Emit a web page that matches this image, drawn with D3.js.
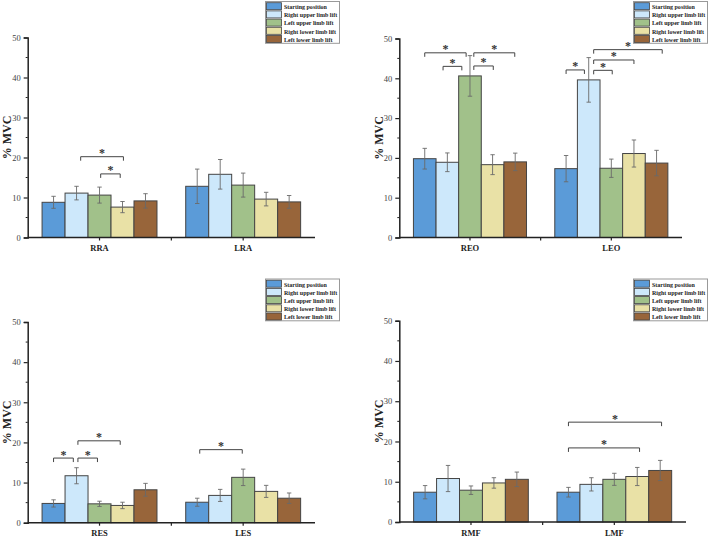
<!DOCTYPE html>
<html>
<head>
<meta charset="utf-8">
<script src="https://cdn.jsdelivr.net/npm/d3@7"></script>
<style>
  body { margin: 0; background: #fff; }
  svg { display: block; font-family: "Liberation Serif", "Times New Roman", serif; }
</style>
</head>
<body>
<div id="chart"></div>
<script>
// conditions (legend order)
var conditions = ['Starting position', 'Right upper limb lift', 'Left upper limb lift', 'Right lower limb lift', 'Left lower limb lift'];
var colors = ['#5b9bd8', '#cde8fb', '#a1c18a', '#e9e1a6', '#98653a'];
var yTicks = [0, 10, 20, 30, 40, 50];

// muscles per panel
var muscles1 = ['RRA', 'LRA'];
var muscles2 = ['REO', 'LEO'];
var muscles3 = ['RES', 'LES'];
var muscles4 = ['RMF', 'LMF'];

// mean %MVC, one value per condition
var rraMean = [8.8, 11.1, 10.6, 7.6, 9.15];
var rraErr  = [1.5, 1.7, 2.0, 1.4, 1.8];
var lraMean = [12.8, 15.8, 13.1, 9.6, 8.9];
var lraErr  = [4.3, 3.7, 3.0, 1.7, 1.6];
var reoMean = [19.8, 18.9, 40.6, 18.3, 19.0];
var reoErr  = [2.6, 2.35, 5.1, 2.5, 2.2];
var leoMean = [17.3, 39.6, 17.4, 21.1, 18.7];
var leoErr  = [3.3, 5.6, 2.3, 3.4, 3.2];
var resMean = [4.8, 11.7, 4.7, 4.3, 8.2];
var resErr  = [0.9, 2.0, 0.65, 0.8, 1.6];
var lesMean = [5.1, 6.8, 11.3, 7.8, 6.1];
var lesErr  = [1.0, 1.5, 2.05, 1.5, 1.3];
var rmfMean = [7.4, 10.8, 7.9, 9.7, 10.6];
var rmfErr  = [1.65, 3.25, 1.05, 1.3, 1.8];
var lmfMean = [7.4, 9.35, 10.6, 11.3, 12.8];
var lmfErr  = [1.2, 1.65, 1.5, 2.25, 2.5];

// significance brackets: group, from/to bar position (index units), height in %MVC
var sig1 = [{g: 0, a: 1.18, b: 3.04, y: 20.2}, {g: 0, a: 2.05, b: 2.9, y: 15.9}];
var sig2 = [
  {g: 0, a: 0, b: 1.83, y: 46.4}, {g: 0, a: 0.81, b: 1.64, y: 43.0},
  {g: 0, a: 2.17, b: 3.98, y: 46.4}, {g: 0, a: 2.17, b: 3.03, y: 43.1},
  {g: 1, a: 0, b: 0.81, y: 42.1}, {g: 1, a: 1.22, b: 2.04, y: 42.0},
  {g: 1, a: 1.22, b: 3.0, y: 44.6}, {g: 1, a: 1.22, b: 4.25, y: 47.2}
];
var sig3 = [
  {g: 0, a: 0, b: 0.86, y: 16.1}, {g: 0, a: 1.06, b: 1.91, y: 16.1},
  {g: 0, a: 1.06, b: 2.9, y: 20.4}, {g: 1, a: 0.11, b: 1.96, y: 18.2}
];
var sig4 = [{g: 1, a: 0, b: 3.1, y: 18.4}, {g: 1, a: 0, b: 4.06, y: 24.8}];

var panels = [
  {muscles: muscles1, means: [rraMean, lraMean], errs: [rraErr, lraErr], sig: sig1,
   left: 27.7, right: 315, top: 37.5, bottom: 237.5, legX: 265.5, legY: 1.5, labX: 6},
  {muscles: muscles2, means: [reoMean, leoMean], errs: [reoErr, leoErr], sig: sig2,
   left: 399.3, right: 682, top: 38.5, bottom: 237.5, legX: 633.5, legY: 1.5, labX: 378},
  {muscles: muscles3, means: [resMean, lesMean], errs: [resErr, lesErr], sig: sig3,
   left: 27.7, right: 315, top: 322, bottom: 522.7, legX: 265.5, legY: 279, labX: 6},
  {muscles: muscles4, means: [rmfMean, lmfMean], errs: [rmfErr, lmfErr], sig: sig4,
   left: 399.3, right: 686, top: 320.7, bottom: 522, legX: 633.5, legY: 279, labX: 378}
];

var svg = d3.select('#chart').append('svg')
  .attr('width', 711)
  .attr('height', 537);

panels.forEach(function(p) {
  var g = svg.append('g');

  var x0 = d3.scaleBand()
    .domain(p.muscles)
    .range([p.left, p.right])
    .paddingInner(0.2)
    .paddingOuter(0.1);

  var x1 = d3.scaleBand()
    .domain(d3.range(conditions.length))
    .range([0, x0.bandwidth()]);

  var y = d3.scaleLinear()
    .domain([0, 50])
    .range([p.bottom, p.top]);

  var bw = x1.bandwidth();
  // bar position in index units -> pixel
  var barX = function(gi, pos) { return x0(p.muscles[gi]) + (pos + 0.5) * bw; };

  // bars
  p.muscles.forEach(function(m, gi) {
    var rows = p.means[gi].map(function(v, i) { return {i: i, v: v, e: p.errs[gi][i]}; });
    var grp = g.append('g').attr('transform', 'translate(' + x0(m) + ',0)');

    grp.selectAll('.bar')
      .data(rows)
      .enter()
      .append('rect')
      .attr('class', 'bar')
      .attr('x', d => x1(d.i))
      .attr('y', d => y(d.v))
      .attr('width', bw)
      .attr('height', d => y(0) - y(d.v))
      .attr('fill', d => colors[d.i])
      .attr('stroke', '#444')
      .attr('stroke-width', 1);

    // error bars
    var eb = grp.selectAll('.err')
      .data(rows)
      .enter()
      .append('g')
      .attr('class', 'err')
      .attr('stroke', '#6a6a6a')
      .attr('stroke-width', 0.9);
    eb.append('line')
      .attr('x1', d => x1(d.i) + bw / 2).attr('x2', d => x1(d.i) + bw / 2)
      .attr('y1', d => y(d.v + d.e)).attr('y2', d => y(d.v - d.e));
    eb.append('line')
      .attr('x1', d => x1(d.i) + bw / 2 - 2.2).attr('x2', d => x1(d.i) + bw / 2 + 2.2)
      .attr('y1', d => y(d.v + d.e)).attr('y2', d => y(d.v + d.e));
    eb.append('line')
      .attr('x1', d => x1(d.i) + bw / 2 - 2.2).attr('x2', d => x1(d.i) + bw / 2 + 2.2)
      .attr('y1', d => y(d.v - d.e)).attr('y2', d => y(d.v - d.e));
  });

  // axes
  var yAxis = d3.axisLeft(y).tickValues(yTicks).tickSize(4).tickPadding(3);
  var yg = g.append('g')
    .attr('transform', 'translate(' + p.left + ',0)')
    .call(yAxis);
  yg.select('.domain').attr('stroke', '#222').attr('stroke-width', 1.5);
  yg.selectAll('.tick line').attr('stroke', '#222').attr('stroke-width', 1.2);
  yg.selectAll('.tick text')
    .attr('fill', '#444')
    .style('font-size', '8.5px')
    .style('font-family', '"Liberation Serif", serif');

  // minor ticks
  g.append('g').selectAll('line')
    .data([5, 15, 25, 35, 45])
    .enter()
    .append('line')
    .attr('x1', p.left - 2).attr('x2', p.left)
    .attr('y1', d => y(d)).attr('y2', d => y(d))
    .attr('stroke', '#222');

  var xAxis = d3.axisBottom(x0).tickSize(3).tickSizeOuter(0).tickFormat('');
  var xg = g.append('g')
    .attr('transform', 'translate(0,' + p.bottom + ')')
    .call(xAxis);
  xg.select('.domain').attr('stroke', '#222').attr('stroke-width', 1.5)
    .attr('d', 'M' + p.left + ',0H' + p.right);
  xg.selectAll('.tick line').attr('stroke', '#222').attr('stroke-width', 1.2);
  // divider tick between the two muscles
  xg.append('line')
    .attr('x1', (p.left + p.right) / 2).attr('x2', (p.left + p.right) / 2)
    .attr('y1', 0).attr('y2', 3)
    .attr('stroke', '#222').attr('stroke-width', 1.2);

  // category labels
  g.selectAll('.cat')
    .data(p.muscles)
    .enter()
    .append('text')
    .attr('class', 'cat')
    .attr('x', d => x0(d) + x0.bandwidth() / 2)
    .attr('y', p.bottom + 13.5)
    .attr('text-anchor', 'middle')
    .attr('font-weight', 'bold')
    .attr('font-size', 8.5)
    .attr('fill', '#222')
    .text(d => d);

  // y label
  g.append('text')
    .attr('transform', 'translate(' + (p.labX + 4.5) + ',' + ((p.top + p.bottom) / 2) + ') rotate(-90)')
    .attr('text-anchor', 'middle')
    .attr('font-weight', 'bold')
    .attr('font-size', 12)
    .attr('fill', '#222')
    .text('% MVC');

  // significance brackets
  var sg = g.selectAll('.sig')
    .data(p.sig)
    .enter()
    .append('g')
    .attr('class', 'sig');
  sg.append('path')
    .attr('d', function(d) {
      var xa = barX(d.g, d.a), xb = barX(d.g, d.b), yy = y(d.y);
      return 'M' + xa + ',' + (yy + 4) + 'V' + yy + 'H' + xb + 'V' + (yy + 4);
    })
    .attr('fill', 'none')
    .attr('stroke', '#444')
    .attr('stroke-width', 1);
  sg.append('text')
    .attr('x', d => (barX(d.g, d.a) + barX(d.g, d.b)) / 2)
    .attr('y', d => y(d.y) + 0.5)
    .attr('text-anchor', 'middle')
    .attr('font-weight', 'bold')
    .attr('font-size', 12)
    .attr('fill', '#333')
    .text('*');

  // legend
  var leg = g.append('g').attr('transform', 'translate(' + p.legX + ',' + p.legY + ')');
  leg.append('rect')
    .attr('width', 74).attr('height', 41.8)
    .attr('fill', '#fff')
    .attr('stroke', '#999')
    .attr('stroke-width', 1);
  var items = leg.selectAll('.item')
    .data(conditions)
    .enter()
    .append('g')
    .attr('class', 'item')
    .attr('transform', (d, i) => 'translate(1,' + (1.2 + i * 8.2) + ')');
  items.append('rect')
    .attr('width', 15).attr('height', 7)
    .attr('fill', (d, i) => colors[i])
    .attr('stroke', '#444')
    .attr('stroke-width', 0.8);
  // condensed legend text
  items.append('text')
    .attr('transform', 'translate(17.5,6.3) scale(0.86,1)')
    .attr('font-weight', 'bold')
    .attr('font-size', 7)
    .attr('fill', '#222')
    .text(d => d);
});
</script>
</body>
</html>
